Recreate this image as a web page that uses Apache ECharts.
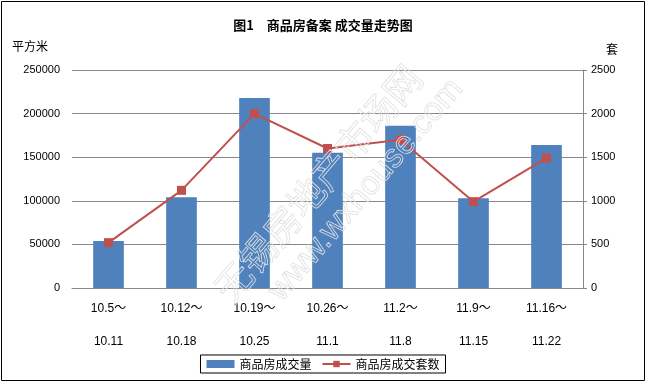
<!DOCTYPE html>
<html><head><meta charset="utf-8">
<script src="https://cdn.jsdelivr.net/npm/echarts@6/dist/echarts.min.js"></script>
<style>html,body{margin:0;padding:0;background:#fff}#c{width:646px;height:385px}</style>
</head><body><div id="c"></div>
<script>
const categories = ['10.5～\n10.11','10.12～\n10.18','10.19～\n10.25','10.26～\n11.1','11.2～\n11.8','11.9～\n11.15','11.16～\n11.22'];
const areaValues = [54000, 104000, 218000, 155000, 186000, 103000, 164000];
const unitValues = [520, 1120, 2000, 1600, 1700, 990, 1490];
const leftTicks = [0, 250000, 50000];
const rightTicks = [0, 2500, 500];

const chart = echarts.init(document.getElementById('c'));
const font = 'Liberation Sans, "Noto Sans CJK SC", sans-serif';
chart.setOption({
  animation: false,
  title: {
    text: '图1　商品房备案 成交量走势图', left: 'center', top: 14,
    textStyle: {fontSize: 13, fontWeight: 'bold', color: '#000', fontFamily: '"Noto Sans CJK SC", sans-serif'}
  },
  graphic: [
    {type: 'rect', shape: {x: 1.5, y: 1.5, width: 643, height: 379}, style: {fill: 'none', stroke: '#000', lineWidth: 1}, z: 100},
    {type: 'text', x: 12, y: 40, style: {text: '平方米', fontSize: 12, fill: '#000', fontFamily: '"Noto Sans CJK SC", sans-serif'}},
    {type: 'text', x: 606, y: 43, style: {text: '套', fontSize: 12, fill: '#000', fontFamily: '"Noto Sans CJK SC", sans-serif'}},
    {type: 'text', x: 318, y: 183, rotation: Math.PI * 49.5 / 180, originX: 0, originY: 0,
      style: {text: '无锡房地产市场网', fontSize: 37, fill: 'none', stroke: '#e0e0e0', lineWidth: 0.8, align: 'center', verticalAlign: 'middle', fontFamily: '"Noto Sans CJK SC", sans-serif'}, z: 50},
    {type: 'text', x: 366, y: 190, rotation: Math.PI * 49.5 / 180, originX: 0, originY: 0,
      style: {text: 'www.wxhouse.com', fontSize: 33, fill: 'none', stroke: '#e0e0e0', lineWidth: 0.8, align: 'center', verticalAlign: 'middle', fontFamily: 'Liberation Sans, sans-serif'}, z: 50}
  ],
  legend: {
    bottom: 12, left: 'center',
    borderColor: '#000', borderWidth: 1, padding: [3, 6, 3, 6], itemGap: 10,
    itemWidth: 28, itemHeight: 8,
    textStyle: {fontSize: 12, color: '#000', fontFamily: '"Noto Sans CJK SC", sans-serif'},
    data: [
      {name: '商品房成交量', icon: 'rect'},
      {name: '商品房成交套数'}
    ]
  },
  grid: {left: 72, right: 63, top: 70, bottom: 97},
  xAxis: {
    type: 'category', data: categories,
    axisLine: {lineStyle: {color: '#888'}},
    axisTick: {show: false},
    axisLabel: {color: '#000', fontSize: 12, lineHeight: 33, margin: 4, fontFamily: font, interval: 0}
  },
  yAxis: [
    {type: 'value', min: leftTicks[0], max: leftTicks[1], interval: leftTicks[2],
      axisLine: {show: false}, axisTick: {show: false},
      splitLine: {lineStyle: {color: '#888'}},
      axisLabel: {color: '#000', fontSize: 11, margin: 12, fontFamily: font, formatter: v => String(v)}},
    {type: 'value', min: rightTicks[0], max: rightTicks[1], interval: rightTicks[2],
      axisLine: {show: true, lineStyle: {color: '#888'}},
      axisTick: {show: true, length: 4, lineStyle: {color: '#888'}},
      splitLine: {show: false},
      axisLabel: {color: '#000', fontSize: 11, margin: 8, fontFamily: font, formatter: v => String(v)}}
  ],
  series: [
    {name: '商品房成交量', type: 'bar', data: areaValues, barWidth: '42%', itemStyle: {color: '#4F81BD'}, yAxisIndex: 0},
    {name: '商品房成交套数', type: 'line', data: unitValues, yAxisIndex: 1, symbol: 'rect', symbolSize: 9,
      itemStyle: {color: '#C0504D'}, lineStyle: {color: '#C0504D', width: 2}}
  ]
});
</script></body></html>
